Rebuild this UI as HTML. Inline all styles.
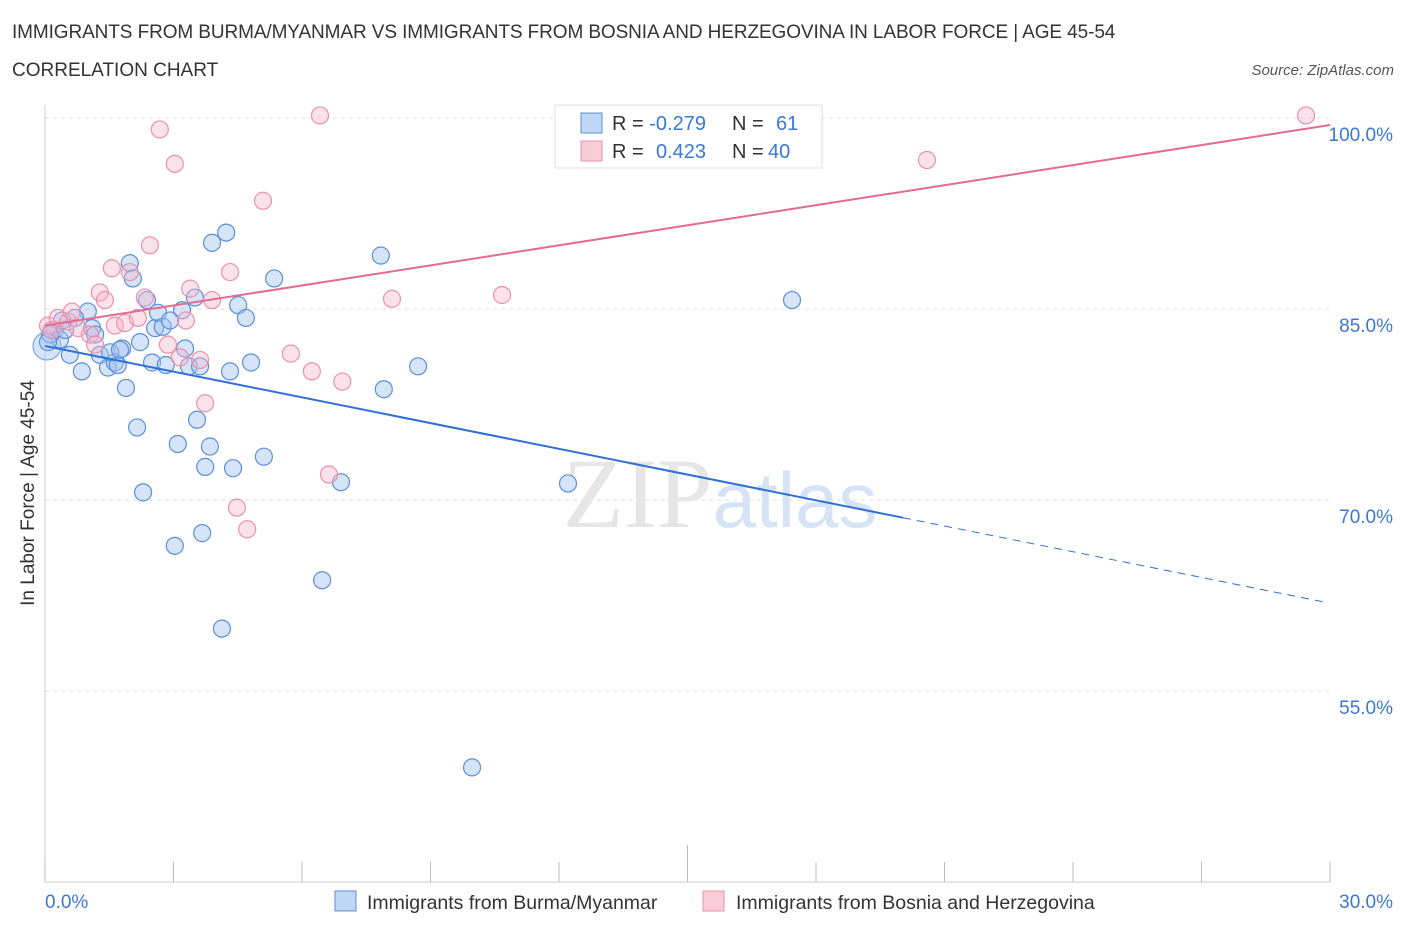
<!DOCTYPE html>
<html><head><meta charset="utf-8">
<style>
body{margin:0;background:#fff;font-family:"Liberation Sans",sans-serif;}
#wrap{position:relative;width:1406px;height:930px;overflow:hidden;}
.t{position:absolute;white-space:nowrap;}
</style></head>
<body>
<div id="wrap">
<div class="t" style="left:12px;top:22px;font-size:19px;letter-spacing:-0.1px;color:#333;">IMMIGRANTS FROM BURMA/MYANMAR VS IMMIGRANTS FROM BOSNIA AND HERZEGOVINA IN LABOR FORCE | AGE 45-54</div>
<div class="t" style="left:12px;top:60px;font-size:19px;color:#333;">CORRELATION CHART</div>
<div class="t" style="right:12px;top:62px;font-size:15px;color:#555;font-style:italic;">Source: ZipAtlas.com</div>
<svg id="svg" width="1406" height="930" style="position:absolute;left:0;top:0"></svg>
</div>
<script>
const xTicks=[0,3,6,9,12,15,18,21,24,27,30];
const yTicks=[55,70,85,100];
const blueX=[.23,.40,.35,.58,.86,1.00,1.10,1.17,1.28,1.47,1.63,1.70,1.80,1.89,1.98,2.05,2.15,2.22,2.29,2.38,2.50,2.57,2.64,2.75,2.82,3.03,3.10,3.20,3.27,3.36,3.50,3.55,3.67,3.74,3.85,3.90,4.23,4.32,4.39,4.51,4.69,4.81,5.11,5.35,6.47,6.91,4.13,7.84,7.91,8.71,9.97,12.21,17.44,.12,.07,.47,.70,1.52,1.75,2.92,3.62];
const blueY=[83.35,84.1,82.6,81.4,80.1,84.8,83.5,83.0,81.4,80.4,80.8,80.6,81.9,78.8,88.6,87.4,75.7,82.4,70.6,85.7,80.8,83.5,84.7,83.6,80.6,66.4,74.4,84.9,81.9,80.5,85.9,76.3,67.4,72.6,74.2,90.2,91.0,80.1,72.5,85.3,84.3,80.8,73.4,87.4,63.7,71.4,59.9,89.2,78.7,80.5,49.0,71.3,85.7,83.0,82.4,83.35,84.3,81.6,81.8,84.1,80.5];
const pinkX=[.07,.16,.30,.54,.63,.77,1.05,1.28,1.40,1.56,1.63,1.87,1.98,2.17,2.33,2.45,2.68,2.87,3.03,3.15,3.29,3.39,3.62,3.74,3.90,4.32,4.48,4.72,5.09,5.74,6.23,6.42,6.63,6.94,8.10,10.67,15.36,20.59,29.44,1.17];
const pinkY=[83.7,83.35,84.3,84.0,84.8,83.5,83.0,86.3,85.7,88.2,83.7,83.9,87.9,84.3,85.9,90.0,99.1,82.2,96.4,81.2,84.1,86.6,81.0,77.6,85.7,87.9,69.4,67.7,93.5,81.5,80.1,100.2,72.0,79.3,85.8,86.1,100.2,96.7,100.2,82.2];
const blueLine=[82.1,-0.6735]; // intercept, slope
const pinkLine=[83.7,0.525];
const X0=45,X1=1330;
const sx=v=>X0+(v/30)*(X1-X0);
const sy=v=>118+(100-v)/15*191;
const svg=document.getElementById('svg');
const NS='http://www.w3.org/2000/svg';
function mk(tag,attrs,parent){const e=document.createElementNS(NS,tag);for(const k in attrs)e.setAttribute(k,attrs[k]);(parent||svg).appendChild(e);return e;}
yTicks.forEach(v=>{
 const l=mk('line',{x1:45,x2:1330,y1:sy(v),y2:sy(v),stroke:'#ddd','stroke-dasharray':'4,4'});
 
 
 const t=mk('text',{x:1393,y:sy(v)+23,'text-anchor':'end','font-size':19,fill:'#3b78d6'});
 t.textContent=v.toFixed(1)+'%';
 
 
});
const ax=mk('line',{x1:45,x2:1330,y1:882,y2:882,stroke:'#ccc'});


const ay=mk('line',{x1:45,x2:45,y1:105,y2:882,stroke:'#ccc'});


xTicks.forEach((v,i)=>{
 const tl=mk('line',{x1:sx(v),x2:sx(v),y1:(i==5?845:862),y2:882,stroke:'#bbb'});
 
 
});
[[0,'start'],[30,'end']].forEach(([v,a])=>{
 const t=mk('text',{x:v==0?45:1393,y:908,'text-anchor':a,'font-size':19,fill:'#3b78d6'});
 t.textContent=v.toFixed(1)+'%';
 
 
});
const yt=mk('text',{x:34,y:493,'text-anchor':'middle','font-size':19,fill:'#333',transform:'rotate(-90 34 493)'});
yt.textContent='In Labor Force | Age 45-54';


const wm=mk('text',{x:720,y:527,'text-anchor':'middle','font-size':100,fill:'#e6e6e6','font-family':'Liberation Serif'});
wm.innerHTML='ZIP<tspan font-family="Liberation Sans" font-size="78" fill="#d5e3f5">atlas</tspan>';


function pts(xs,ys,fill,stroke,name){xs.forEach((x,i)=>{
 const c=mk('circle',{cx:sx(x),cy:sy(ys[i]),r:8.5,fill:fill,stroke:stroke,'stroke-width':1.2});
 
 
});}
const big=mk('circle',{cx:47,cy:346,r:14,fill:'rgba(164,196,240,0.45)',stroke:'#6a9ae0'});


pts(blueX,blueY,'rgba(164,196,240,0.45)','#5b8fd9','blue-point');
pts(pinkX,pinkY,'rgba(246,182,202,0.4)','#e891ae','pink-point');
const bx1=20.03,bx2=29.9;
const bl=mk('line',{x1:sx(0),y1:sy(blueLine[0]),x2:sx(bx1),y2:sy(blueLine[0]+blueLine[1]*bx1),stroke:'#2f6fd6','stroke-width':2});


const bd=mk('line',{x1:sx(bx1),y1:sy(blueLine[0]+blueLine[1]*bx1),x2:sx(bx2),y2:sy(blueLine[0]+blueLine[1]*bx2),stroke:'#2f6fd6','stroke-width':1,'stroke-dasharray':'8,6'});


const pl=mk('line',{x1:sx(0),y1:sy(pinkLine[0]),x2:sx(30),y2:sy(pinkLine[0]+pinkLine[1]*30),stroke:'#e46a93','stroke-width':2});


const lg=mk('g',{});


mk('rect',{x:555,y:105,width:267,height:63,fill:'#fff',stroke:'#ddd'},lg);
mk('rect',{x:581,y:113,width:21,height:20,fill:'rgba(164,196,240,0.7)',stroke:'#5b8fd9'},lg);
mk('rect',{x:581,y:141,width:21,height:20,fill:'rgba(246,182,202,0.7)',stroke:'#e891ae'},lg);
const t1=mk('text',{x:612,y:130,'font-size':20,fill:'#333'},lg);
t1.innerHTML='R = <tspan fill="#3b78d6">-0.279</tspan><tspan x="732">N = </tspan><tspan x="776" fill="#3b78d6">61</tspan>';
const t2=mk('text',{x:612,y:158,'font-size':20,fill:'#333'},lg);
t2.innerHTML='R = <tspan x="656" fill="#3b78d6">0.423</tspan><tspan x="732">N = </tspan><tspan x="768" fill="#3b78d6">40</tspan>';
const bl2=mk('g',{});


mk('rect',{x:335,y:891,width:21,height:20,fill:'rgba(164,196,240,0.7)',stroke:'#5b8fd9'},bl2);
const lt1=mk('text',{x:367,y:909,'font-size':19.5,fill:'#333'},bl2);lt1.textContent='Immigrants from Burma/Myanmar';
mk('rect',{x:703,y:891,width:21,height:20,fill:'rgba(246,182,202,0.7)',stroke:'#e891ae'},bl2);
const lt2=mk('text',{x:736,y:909,'font-size':19.5,fill:'#333'},bl2);lt2.textContent='Immigrants from Bosnia and Herzegovina';
</script>
</body></html>
